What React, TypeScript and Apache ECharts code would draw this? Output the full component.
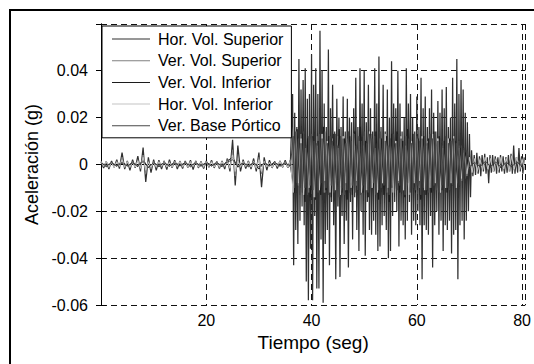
import React, { useEffect, useRef } from "react";
import * as echarts from "echarts";

const FONT = "'Liberation Sans', Arial, Helvetica, sans-serif";

const SERIES_NAMES = [
  "Hor. Vol. Superior",
  "Ver. Vol. Superior",
  "Ver. Vol. Inferior",
  "Hor. Vol. Inferior",
  "Ver. Base Pórtico",
];
const SERIES_COLORS = ["#303030", "#808080", "#1c1c1c", "#c4c4c4", "#474747"];
const SERIES_WIDTHS = [1.25, 1, 1, 1, 1];

const X_TITLE = "Tiempo (seg)";
const Y_TITLE = "Aceleración (g)";
const X_MIN = 0;
const X_MAX = 80.6;
const X_STEP = 20;
const Y_MIN = -0.06;
const Y_MAX = 0.0599;
const Y_STEP = 0.02;

// Hor. Vol. Superior: quiet part (t0 = 0, dt = 0.5 s)
const HOR_SUP_PRE = [
  0.001, -0.0015, 0.0012, -0.002, 0.0015, -0.0012, 0.002, -0.0018, 0.005, -0.002,
  0.0015, -0.0025, 0.002, -0.0015, 0.0035, -0.003, 0.0072, -0.0075, 0.003, -0.0035,
  0.002, -0.0025, 0.0018, -0.002, 0.0015, -0.0022, 0.002, -0.0015, 0.0018, -0.002,
  0.0012, -0.0018, 0.0015, -0.0012, 0.0018, -0.0022, 0.0015, -0.0015, 0.0012, -0.0018,
  0.0015, -0.0012, 0.0018, -0.0015, 0.0012, -0.0018, 0.0015, -0.002, 0.0025, -0.003,
  0.0105, -0.009, 0.008, -0.003, 0.002, -0.0018, 0.0015, -0.002, 0.0025, -0.003,
  0.005, -0.0097, 0.003, -0.0025, 0.0018, -0.0015, 0.0012, -0.0018, 0.0015, -0.0012,
  0.0018, -0.0015, 0.002,
];
// Hor. Vol. Superior: strong part (t0 = 36.4, dt = 0.2 s)
const HOR_SUP_MAIN = [
  0.030, -0.043, 0.022, -0.028, 0.016, -0.034, 0.045, -0.024, 0.032, -0.018,
  0.036, -0.026, 0.041, -0.050, 0.028, -0.058, 0.030, -0.036, 0.047, -0.058,
  0.034, -0.022, 0.041, -0.053, 0.030, -0.053, 0.057, -0.032, 0.040, -0.059,
  0.026, -0.034, 0.016, -0.028, 0.049, -0.043, 0.024, -0.016, 0.034, -0.026,
  0.014, -0.049, 0.028, -0.018, 0.020, -0.048, 0.016, -0.022, 0.029, -0.034,
  0.014, -0.024, 0.028, -0.044, 0.020, -0.016, 0.018, -0.032, 0.024, -0.014,
  0.037, -0.028, 0.016, -0.037, 0.041, -0.020, 0.026, -0.030, 0.040, -0.039,
  0.018, -0.016, 0.034, -0.028, 0.024, -0.030, 0.014, -0.024, 0.041, -0.030,
  0.026, -0.037, 0.046, -0.035, 0.016, -0.026, 0.034, -0.022, 0.014, -0.028,
  0.032, -0.040, 0.020, -0.037, 0.044, -0.022, 0.026, -0.016, 0.024, -0.020,
  0.040, -0.035, 0.026, -0.024, 0.014, -0.026, 0.020, -0.032, 0.041, -0.024,
  0.026, -0.016, 0.030, -0.030, 0.020, -0.024, 0.014, -0.026, 0.029, -0.020,
  0.016, -0.026, 0.037, -0.049, 0.024, -0.026, 0.029, -0.028, 0.016, -0.030,
  0.024, -0.022, 0.032, -0.044, 0.022, -0.026, 0.014, -0.020, 0.027, -0.030,
  0.022, -0.024, 0.032, -0.037, 0.024, -0.026, 0.033, -0.028, 0.016, -0.024,
  0.020, -0.038, 0.037, -0.030, 0.026, -0.028, 0.045, -0.049, 0.030, -0.026,
  0.036, -0.024, 0.032, -0.032, 0.022, -0.024, 0.018, -0.020, 0.013, -0.014,
];
// Hor. Vol. Superior: decay (t0 = 70.4, dt = 0.25 s)
const HOR_SUP_POST = [
  0.006, -0.005, 0.004, -0.0045, 0.005, -0.004, 0.0035, -0.005, 0.004, -0.003,
  0.0045, -0.004, 0.003, -0.008, 0.004, -0.0035, 0.004, -0.003, 0.0035, -0.004,
  0.003, -0.0035, 0.004, -0.003, 0.0035, -0.004, 0.003, -0.0035, 0.004, -0.003,
  0.0045, -0.004, 0.008, -0.004, 0.003, -0.0035, 0.007, -0.003, 0.0035, -0.004,
  0.003,
];

// Ver. Vol. Superior (t0 = 0, dt = 0.5 s)
const VER_SUP = [
  0.0015, -0.001, 0.0012, -0.0015, 0.001, -0.0012, 0.0015, -0.001, 0.003, -0.0015,
  0.001, -0.0015, 0.0012, -0.001, 0.002, -0.002, 0.004, -0.004, 0.0015, -0.002,
  0.0012, -0.0015, 0.001, -0.0012, 0.0015, -0.001, 0.0012, -0.0015, 0.001, -0.0012,
  0.0015, -0.001, 0.0012, -0.0015, 0.001, -0.0012, 0.0015, -0.001, 0.0012, -0.0015,
  0.001, -0.0012, 0.0015, -0.001, 0.0012, -0.0015, 0.001, -0.0012, 0.002, -0.002,
  0.006, -0.005, 0.002, -0.0015, 0.0012, -0.001, 0.0015, -0.0012, 0.0015, -0.002,
  0.003, -0.004, 0.0015, -0.0012, 0.001, -0.0015, 0.0012, -0.001, 0.0015, -0.0012,
  0.0012, -0.0015, 0.002,
  -0.008, 0.011, -0.009, 0.013, -0.01, 0.007, -0.012, 0.009, -0.008, 0.012,
  -0.01, 0.008, -0.012, 0.008, -0.009, 0.011, -0.007, 0.012, -0.009, 0.008,
  -0.011, 0.009, -0.008, 0.01, -0.009, 0.008, -0.011, 0.012, -0.008, 0.009,
  -0.01, 0.007, -0.009, 0.011, -0.008, 0.01, -0.012, 0.008, -0.009, 0.01,
  -0.008, 0.009, -0.011, 0.008, -0.009, 0.01, -0.007, 0.009, -0.01, 0.008,
  -0.009, 0.01, -0.008, 0.01, -0.008, 0.011, -0.009, 0.008, -0.01, 0.009,
  -0.008, 0.01, -0.009, 0.008, -0.007, 0.006, -0.005,
  0.003, -0.0025, 0.002, -0.003, 0.0025, -0.002, 0.003, -0.0025, 0.002, -0.003,
  0.0025, -0.002, 0.002, -0.0025, 0.003, -0.002, 0.004, -0.0025, 0.003, -0.002,
  0.0025, -0.002,
];

// Ver. Vol. Inferior: quiet (t0 = 0, dt = 1 s)
const VER_INF_PRE = [
  0.0008, -0.001, 0.0006, -0.0008, 0.001, -0.0006, 0.0008, -0.001, 0.002, -0.0015,
  0.0008, -0.001, 0.0006, -0.0008, 0.001, -0.0006, 0.0008, -0.001, 0.0006, -0.0008,
  0.001, -0.0006, 0.0008, -0.001, 0.0015, 0.003, -0.0012, 0.0008, -0.001, 0.0006,
  -0.002, 0.0008, -0.0006, 0.001, -0.0008, 0.0006, -0.001,
];
// Ver. Vol. Inferior: strong (t0 = 36.75, dt = 0.5 s)
const VER_INF_MAIN = [
  -0.012, 0.015, -0.010, 0.013, -0.016, 0.011, -0.014, 0.012, -0.015, 0.010,
  -0.013, 0.016, -0.011, 0.012, -0.014, 0.013, -0.010, 0.015, -0.012, 0.011,
  -0.015, 0.012, -0.013, 0.014, -0.011, 0.016, -0.012, 0.010, -0.014, 0.013,
  -0.010, 0.014, -0.015, 0.011, -0.013, 0.012, -0.016, 0.013, -0.011, 0.014,
  -0.012, 0.010, -0.014, 0.015, -0.011, 0.013, -0.012, 0.011, -0.015, 0.012,
  -0.013, 0.011, -0.012, 0.014, -0.010, 0.012, -0.011, 0.010, -0.012, 0.011,
  -0.009, 0.010, -0.008, 0.007, -0.006, 0.005,
];
// Ver. Vol. Inferior: decay (t0 = 70, dt = 1 s)
const VER_INF_POST = [
  -0.0015, 0.0012, -0.001, 0.0015, -0.0012, 0.001, -0.0015, 0.0012, -0.001, 0.0015,
  -0.0012,
];

// Hor. Vol. Inferior (t0 = 0, dt = 0.5 s)
const HOR_INF = [
  0.001, -0.0008, 0.0012, -0.001, 0.0008, -0.0012, 0.001, -0.0008, 0.002, -0.001,
  0.0012, -0.001, 0.0008, -0.0012, 0.0015, -0.0015, 0.003, -0.0025, 0.001, -0.0012,
  0.0008, -0.001, 0.0012, -0.0008, 0.001, -0.0012, 0.0008, -0.001, 0.0012, -0.0008,
  0.001, -0.0012, 0.0008, -0.001, 0.0012, -0.0008, 0.001, -0.0012, 0.0008, -0.001,
  0.0012, -0.0008, 0.001, -0.0012, 0.0008, -0.001, 0.0012, -0.0008, 0.0015, -0.0015,
  0.004, -0.003, 0.0015, -0.001, 0.0012, -0.0008, 0.001, -0.0012, 0.0012, -0.0015,
  0.002, -0.003, 0.0012, -0.001, 0.0008, -0.0012, 0.001, -0.0008, 0.0012, -0.001,
  0.0008, -0.0012, 0.0015,
  -0.012, 0.014, -0.008, 0.011, -0.013, 0.007, -0.01, 0.012, -0.014, 0.008,
  -0.011, 0.013, -0.007, 0.01, -0.012, 0.008, -0.011, 0.007, -0.013, 0.012,
  -0.008, 0.011, -0.01, 0.013, -0.007, 0.01, -0.012, 0.008, -0.011, 0.014,
  -0.01, 0.007, -0.012, 0.011, -0.008, 0.013, -0.01, 0.008, -0.012, 0.01,
  -0.007, 0.012, -0.011, 0.008, -0.013, 0.01, -0.008, 0.011, -0.007, 0.012,
  -0.011, 0.008, -0.01, 0.013, -0.008, 0.011, -0.012, 0.007, -0.01, 0.011,
  -0.008, 0.012, -0.01, 0.007, -0.006, 0.005, -0.004,
  0.003, -0.0035, 0.0025, -0.003, 0.002, -0.0025, 0.003, -0.002, 0.0025, -0.003,
  0.002, -0.0025, 0.003, -0.002, 0.0025, -0.003, 0.0035, -0.002, 0.003, -0.0025,
  0.002, -0.0025,
];

// Ver. Base Pórtico: quiet (t0 = 0, dt = 1 s)
const VER_BASE_PRE = [
  0.0006, -0.0005, 0.0007, -0.0006, 0.0005, -0.0007, 0.0006, -0.0005, 0.0012, -0.001,
  0.0006, -0.0005, 0.0007, -0.0006, 0.0005, -0.0007, 0.0006, -0.0005, 0.0007, -0.0006,
  0.0005, -0.0007, 0.0006, -0.0005, 0.001, 0.002, -0.0008, 0.0006, -0.0005, 0.0007,
  -0.0012, 0.0005, -0.0006, 0.0007, -0.0005, 0.0006, -0.0007,
];
// Ver. Base Pórtico: strong (t0 = 36.5, dt = 0.25 s)
const VER_BASE_MAIN = [
  0.012, -0.010, 0.014, -0.008, 0.011, -0.013, 0.009, -0.012, 0.014, -0.010,
  0.008, -0.013, 0.012, -0.009, 0.013, -0.011, 0.010, -0.014, 0.009, -0.012,
  0.013, -0.008, 0.011, -0.012, 0.014, -0.010, 0.009, -0.013, 0.012, -0.009,
  0.010, -0.012, 0.013, -0.011, 0.008, -0.014, 0.012, -0.010, 0.011, -0.013,
  0.009, -0.011, 0.014, -0.012, 0.010, -0.009, 0.013, -0.012, 0.008, -0.011,
  0.012, -0.013, 0.010, -0.009, 0.014, -0.011, 0.009, -0.012, 0.013, -0.010,
  0.011, -0.008, 0.012, -0.013, 0.009, -0.011, 0.014, -0.010, 0.012, -0.009,
  0.010, -0.012, 0.008, -0.013, 0.011, -0.010, 0.013, -0.012, 0.009, -0.011,
  0.013, -0.009, 0.011, -0.012, 0.010, -0.013, 0.012, -0.008, 0.011, -0.012,
  0.009, -0.010, 0.013, -0.011, 0.012, -0.009, 0.010, -0.013, 0.011, -0.010,
  0.012, -0.011, 0.009, -0.012, 0.013, -0.010, 0.011, -0.009, 0.012, -0.011,
  0.010, -0.012, 0.011, -0.009, 0.010, -0.011, 0.012, -0.010, 0.009, -0.011,
  0.010, -0.009, 0.011, -0.010, 0.009, -0.008, 0.010, -0.009, 0.008, -0.007,
  0.007, -0.006, 0.006,
];
// Ver. Base Pórtico: decay (t0 = 70, dt = 1 s)
const VER_BASE_POST = [
  -0.001, 0.0008, -0.001, 0.0012, -0.0008, 0.001, -0.0012, 0.0008, -0.001, 0.001,
  -0.0008,
];

function seg(t0: number, dt: number, vals: number[]): [number, number][] {
  return vals.map((v, i) => [Math.round((t0 + i * dt) * 1000) / 1000, v]);
}

const SERIES_DATA: [number, number][][] = [
  [...seg(0, 0.5, HOR_SUP_PRE), ...seg(36.4, 0.2, HOR_SUP_MAIN), ...seg(70.4, 0.25, HOR_SUP_POST)],
  seg(0, 0.5, VER_SUP),
  [...seg(0, 1, VER_INF_PRE), ...seg(36.75, 0.5, VER_INF_MAIN), ...seg(70, 1, VER_INF_POST)],
  seg(0, 0.5, HOR_INF),
  [...seg(0, 1, VER_BASE_PRE), ...seg(36.5, 0.25, VER_BASE_MAIN), ...seg(70, 1, VER_BASE_POST)],
];

function fmtY(v: number): string {
  if (Math.abs(v) < 1e-9) return "0";
  return v.toFixed(2);
}

export default function App() {
  const ref = useRef<HTMLDivElement>(null);
  useEffect(() => {
    if (!ref.current) return;
    const chart = echarts.init(ref.current, undefined, { renderer: "svg" });
    const axisLine = { show: true, lineStyle: { color: "#000", width: 1 } };
    const split = { show: true, lineStyle: { color: "#111", type: [6, 4] as any, width: 1 } };
    const tick = { show: true, inside: true, length: 5, lineStyle: { color: "#000" } };
    const labelStyle = { color: "#000", fontSize: 16, fontFamily: FONT };
    chart.setOption({
      animation: false,
      backgroundColor: "#fff",
      textStyle: { fontFamily: FONT },
      grid: { left: 101, right: 5, top: 24, bottom: 59, containLabel: false },
      graphic: [
        {
          type: "rect",
          silent: true,
          z: -10,
          shape: { x: 10, y: 10, width: 700, height: 600 },
          style: { fill: "none", stroke: "#000", lineWidth: 2 },
        },
      ],
      legend: {
        data: SERIES_NAMES,
        orient: "vertical",
        left: 102,
        top: 26,
        icon: "rect",
        itemWidth: 38,
        itemHeight: 1,
        itemGap: 5.7,
        padding: [5, 8, 4, 10],
        backgroundColor: "#fff",
        borderColor: "#000",
        borderWidth: 1,
        borderRadius: 0,
        selectedMode: false,
        textStyle: { ...labelStyle, lineHeight: 16, padding: [0, 0, 0, 3] },
        z: 10,
      },
      xAxis: [
        {
          type: "value",
          min: X_MIN,
          max: X_MAX,
          interval: X_STEP,
          name: X_TITLE,
          nameLocation: "middle",
          nameGap: 27,
          nameTextStyle: { ...labelStyle, fontSize: 19 },
          axisLine,
          axisTick: tick,
          axisLabel: { ...labelStyle, margin: 7, showMinLabel: false, showMaxLabel: false },
          splitLine: split,
        },
        {
          type: "value",
          position: "top",
          min: X_MIN,
          max: X_MAX,
          interval: X_STEP,
          axisLine,
          axisTick: tick,
          axisLabel: { show: false },
          splitLine: { show: false },
        },
      ],
      yAxis: [
        {
          type: "value",
          min: Y_MIN,
          max: Y_MAX,
          interval: Y_STEP,
          name: Y_TITLE,
          nameLocation: "middle",
          nameGap: 58,
          nameTextStyle: { ...labelStyle, fontSize: 18 },
          axisLine,
          axisTick: tick,
          axisLabel: { ...labelStyle, margin: 13, showMaxLabel: false, formatter: fmtY },
          splitLine: split,
        },
        {
          type: "value",
          position: "right",
          min: Y_MIN,
          max: Y_MAX,
          interval: Y_STEP,
          axisLine,
          axisTick: tick,
          axisLabel: { show: false },
          splitLine: { show: false },
        },
      ],
      series: SERIES_NAMES.map((name, k) => ({
        name,
        type: "line",
        xAxisIndex: 0,
        yAxisIndex: 0,
        data: SERIES_DATA[k],
        symbol: "none",
        showSymbol: false,
        color: SERIES_COLORS[k],
        lineStyle: { color: SERIES_COLORS[k], width: SERIES_WIDTHS[k] },
        clip: true,
        z: 2,
      })),
    });
    return () => chart.dispose();
  }, []);
  return (
    <div
      ref={ref}
      style={{ position: "fixed", left: 0, top: 0, width: 534, height: 364, background: "#fff" }}
    />
  );
}
